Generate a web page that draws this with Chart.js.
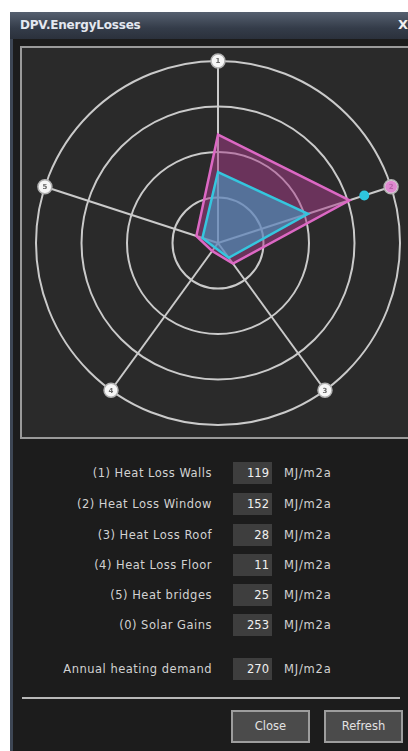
<!DOCTYPE html>
<html>
<head>
<meta charset="utf-8">
<script src="https://cdn.jsdelivr.net/npm/chart.js@4/dist/chart.umd.min.js"></script>
<style>
  html, body { margin: 0; padding: 0; background: #ffffff; width: 408px; height: 751px; overflow: hidden; }
  body { position: relative; font-family: "DejaVu Sans", sans-serif; }
  #win { position: absolute; left: 10px; top: 12px; width: 420px; height: 745px; background: #1c1c1c; border-left: 3px solid #3d4654; box-sizing: border-box; }
  #title { position: absolute; left: 10px; top: 12px; width: 420px; height: 27px;
           background: linear-gradient(#566070, #343c49 60%, #2b313c); }
  #title span { position: absolute; left: 10px; top: 6px; color: #e4e8f0; font: bold 12px "DejaVu Sans", sans-serif; letter-spacing: -0.2px; }
  #title b { position: absolute; left: 388px; top: 5px; color: #f0f0f0; font: bold 13px "DejaVu Sans", sans-serif; }
  #panel { position: absolute; left: 20px; top: 46px; width: 400px; height: 393px; background: #2a2a2a;
           border: 2px solid #9a9a9a; box-sizing: border-box; }
  #cv { position: absolute; left: 22px; top: 49px; }
  .lbl { position: absolute; right: 196px; color: #d2d2d2; font-size: 11.5px; letter-spacing: 0.5px; white-space: nowrap; line-height: 14px; }
  .box { position: absolute; left: 233px; width: 39px; height: 22px; background: #3e3e3e; color: #f0f0f0;
         font-size: 11.5px; text-align: right; box-sizing: border-box; padding-right: 3px; line-height: 22px; }
  .unit { position: absolute; left: 284px; color: #d2d2d2; font-size: 11.5px; letter-spacing: 0.8px; line-height: 14px; }
  #sep { position: absolute; left: 22px; top: 697px; width: 378px; height: 2px; background: #b8b8b8; }
  .btn { position: absolute; top: 710px; height: 33px; width: 79px; background: #4b4b4b; border: 2px solid #9d9d9d;
         box-sizing: border-box; color: #e2e2e2; font-size: 11.5px; text-align: center; line-height: 29px; }
</style>
</head>
<body>
<div id="win"></div>
<div id="title"><span>DPV.EnergyLosses</span><b>X</b></div>
<div id="panel"></div>
<canvas id="cv" width="386" height="389" style="width:386px;height:389px"></canvas>
<div id="table"></div>
<div id="sep"></div>
<div class="btn" style="left:231px">Close</div>
<div class="btn" style="left:324px">Refresh</div>
<script>
// ---- data ----
const categories = ["Heat Loss Walls", "Heat Loss Window", "Heat Loss Roof", "Heat Loss Floor", "Heat bridges"];
const axisNumbers = ["1", "2", "3", "4", "5"];
const currentValues = [119, 152, 28, 11, 25];
const referenceValues = [78, 104, 20, 6, 18];
const solarGains = [253, 169]; // current, reference
const tableLabels = ["(1) Heat Loss Walls", "(2) Heat Loss Window", "(3) Heat Loss Roof", "(4) Heat Loss Floor", "(5) Heat bridges", "(0) Solar Gains"];
const tableValues = [119, 152, 28, 11, 25, 253];
const annualLabel = "Annual heating demand";
const annualValue = 270;
const unitLabel = "MJ/m2a";
const scaleMax = 200;
const scaleStep = 50;

// ---- table ----
const table = document.getElementById('table');
const rowY = [473, 504, 535, 565, 595, 625];
function addRow(label, value, y) {
  const l = document.createElement('div'); l.className = 'lbl'; l.textContent = label; l.style.top = (y - 7) + 'px'; table.appendChild(l);
  const b = document.createElement('div'); b.className = 'box'; b.textContent = value; b.style.top = (y - 11) + 'px'; table.appendChild(b);
  const u = document.createElement('div'); u.className = 'unit'; u.textContent = unitLabel; u.style.top = (y - 7) + 'px'; table.appendChild(u);
}
tableLabels.forEach((t, i) => addRow(t, tableValues[i], rowY[i]));
addRow(annualLabel, annualValue, 669);

// ---- chart ----
const solarOnAxis = v => categories.map((c, i) => i === 1 ? Math.min(v, scaleMax) : null);

const axisBadges = {
  id: 'axisBadges',
  beforeDatasetsDraw(chart) {
    const s = chart.scales.r, ctx = chart.ctx;
    ctx.save();
    axisNumbers.forEach((n, i) => {
      const p = s.getPointPosition(i, s.drawingArea);
      ctx.beginPath();
      ctx.arc(p.x, p.y, 7, 0, Math.PI * 2);
      ctx.fillStyle = '#f6f6f6';
      ctx.fill();
      ctx.lineWidth = 1.5;
      ctx.strokeStyle = '#b0b0b0';
      ctx.stroke();
      ctx.fillStyle = '#666';
      ctx.font = 'bold 7px "DejaVu Sans"';
      ctx.textAlign = 'center';
      ctx.textBaseline = 'middle';
      ctx.fillText(n, p.x, p.y + 0.5);
    });
    ctx.restore();
  }
};

new Chart(document.getElementById('cv'), {
  type: 'radar',
  data: {
    labels: categories,
    datasets: [
      { label: 'Current', data: currentValues, order: 3,
        borderColor: '#dc68c4', backgroundColor: 'rgba(170,60,140,0.5)', borderWidth: 2.5,
        pointRadius: 0, fill: true, clip: false },
      { label: 'Reference', data: referenceValues, order: 2,
        borderColor: '#35c6de', backgroundColor: 'rgba(70,165,205,0.55)', borderWidth: 2.5,
        pointRadius: 0, fill: true, clip: false },
      { label: 'Solar Gains (current)', data: solarOnAxis(solarGains[0]), order: 1, showLine: false,
        pointRadius: 6, pointBorderWidth: 0, pointBackgroundColor: 'rgba(215,100,195,0.75)', clip: false, spanGaps: false },
      { label: 'Solar Gains (reference)', data: solarOnAxis(solarGains[1]), order: 0, showLine: false,
        pointRadius: 5, pointBorderWidth: 0, pointBackgroundColor: '#2ec6de', clip: false, spanGaps: false }
    ]
  },
  options: {
    responsive: false,
    animation: false,
    devicePixelRatio: 1,
    layout: { padding: { left: 14, top: 12, right: 8, bottom: 13 } },
    plugins: { legend: { display: false }, tooltip: { enabled: false } },
    scales: {
      r: {
        min: 0, max: scaleMax,
        ticks: { display: false, stepSize: scaleStep },
        grid: { circular: true, color: '#cacaca', lineWidth: 2 },
        angleLines: { color: '#cacaca', lineWidth: 2 },
        pointLabels: { display: false }
      }
    }
  },
  plugins: [axisBadges]
});
</script>
</body>
</html>
